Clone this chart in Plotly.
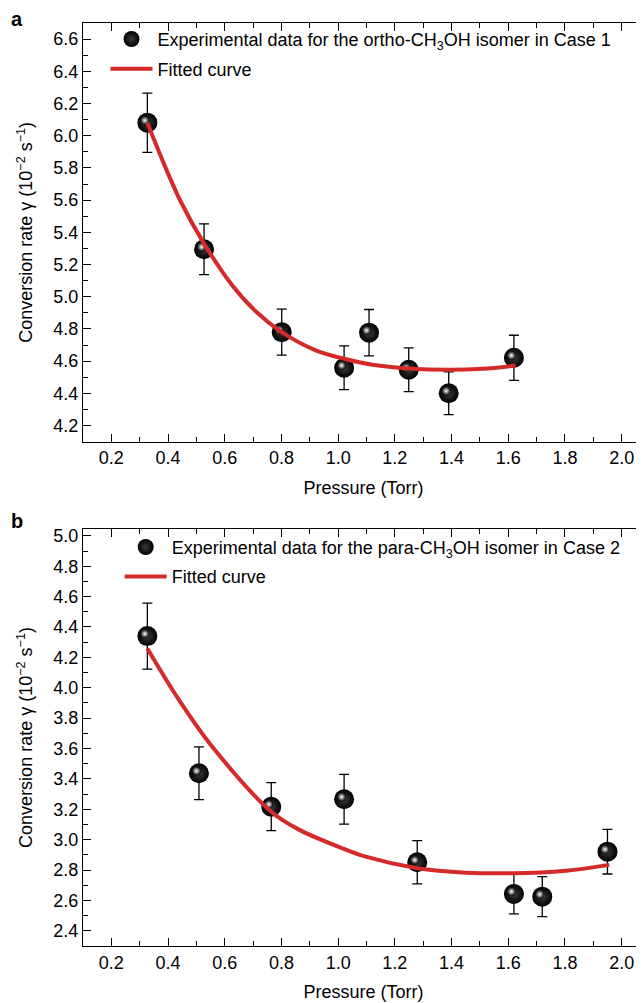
import plotly.graph_objects as go

# ---------------- data ----------------
pressure_a = [0.327, 0.527, 0.801, 1.021, 1.109, 1.249, 1.390, 1.620]
rate_a = [6.081, 5.295, 4.780, 4.559, 4.777, 4.547, 4.401, 4.621]
err_a = [0.184, 0.158, 0.143, 0.136, 0.144, 0.136, 0.133, 0.140]
fit_x_a = [0.327, 0.394, 0.445, 0.527, 0.627, 0.709, 0.801, 0.921, 1.021, 1.121, 1.250, 1.390, 1.509, 1.626]
fit_y_a = [6.081, 5.790, 5.590, 5.330, 5.070, 4.910, 4.780, 4.667, 4.615, 4.578, 4.555, 4.547, 4.553, 4.573]

pressure_b = [0.327, 0.509, 0.764, 1.021, 1.279, 1.620, 1.720, 1.950]
rate_b = [4.340, 3.437, 3.217, 3.266, 2.851, 2.643, 2.625, 2.921]
err_b = [0.217, 0.174, 0.158, 0.164, 0.142, 0.131, 0.132, 0.147]
fit_x_b = [0.327, 0.439, 0.556, 0.764, 0.862, 1.015, 1.097, 1.279, 1.450, 1.614, 1.803, 1.956]
fit_y_b = [4.259, 3.919, 3.612, 3.184, 3.066, 2.943, 2.888, 2.812, 2.783, 2.779, 2.796, 2.834]

legend_a = ["Experimental data for the ortho-CH<sub>3</sub>OH isomer in Case 1", "Fitted curve"]
legend_b = ["Experimental data for the para-CH<sub>3</sub>OH isomer in Case 2", "Fitted curve"]
x_title = "Pressure (Torr)"
y_title = "Conversion rate \u03b3 (10<sup>\u22122</sup> s<sup>\u22121</sup>)"

# ---------------- style ----------------
FONT = "Liberation Sans, Arial, Helvetica, sans-serif"
FS = 18
RED = "#d42a2a"
PAGE_OFF = 8  # default body margin of the html page
W, H = 644 - PAGE_OFF, 1003 - PAGE_OFF
ML, MR, MT, MB = 75, 0, 15, 57
PW, PH = W - ML - MR, H - MT - MB
XR = [0.1, 0.1 + PW / 283.5]
YR_A = [4.1, 6.7]
YR_B = [2.3, 5.045]
DOM_A = [1 - (441.7 - PAGE_OFF - MT) / PH, 1.0]
DOM_B = [0.0, 1 - (529 - PAGE_OFF - MT) / PH]


def px_x(px):
    return (px - PAGE_OFF - ML) / PW


def px_y(py):
    return 1 - (py - PAGE_OFF - MT) / PH


fig = go.Figure()


def add_panel(xs, ys, es, fx, fy, labels, xa, ya, leg_pt, leg_ln, yr, dom):
    # error bars
    fig.add_trace(go.Scatter(x=xs, y=ys, mode="markers", xaxis=xa, yaxis=ya,
                             marker=dict(size=20, color="rgba(0,0,0,0)"),
                             error_y=dict(type="data", array=es, color="black",
                                          thickness=1.3, width=5),
                             showlegend=False, hoverinfo="skip"))
    # spheres
    fig.add_trace(go.Scatter(x=xs, y=ys, mode="markers", xaxis=xa, yaxis=ya,
                             name=labels[0], legend=leg_pt,
                             marker=dict(size=20, color="black",
                                         gradient=dict(type="radial", color="#3c3c3c"),
                                         line=dict(width=0))))
    # highlights (shifted slightly up-left of each sphere centre)
    dx = -2.5 * (XR[1] - XR[0]) / PW
    dy = 2.3 * (yr[1] - yr[0]) / ((dom[1] - dom[0]) * PH)
    fig.add_trace(go.Scatter(x=[v + dx for v in xs], y=[v + dy for v in ys], mode="markers",
                             xaxis=xa, yaxis=ya, showlegend=False, hoverinfo="skip",
                             marker=dict(size=9, color="black",
                                         gradient=dict(type="radial", color="white"),
                                         line=dict(width=0))))
    # fitted curve
    fig.add_trace(go.Scatter(x=fx, y=fy, mode="lines", xaxis=xa, yaxis=ya,
                             name=labels[1], legend=leg_ln,
                             line=dict(color=RED, width=4, shape="spline", smoothing=1.0)))


add_panel(pressure_a, rate_a, err_a, fit_x_a, fit_y_a, legend_a, "x", "y", "legend", "legend2", YR_A, DOM_A)
add_panel(pressure_b, rate_b, err_b, fit_x_b, fit_y_b, legend_b, "x2", "y2", "legend3", "legend4", YR_B, DOM_B)

tickfont = dict(family=FONT, size=FS, color="black")
common_x = dict(range=XR, dtick=0.2, tick0=0, tickformat=".1f", ticks="inside", ticklen=8,
                tickwidth=1.3, tickcolor="black", showline=True, linecolor="black", linewidth=1.3,
                mirror="ticks", showgrid=False, zeroline=False, tickfont=tickfont, automargin=False,
                minor=dict(dtick=0.1, tick0=0, ticks="inside", ticklen=5, tickwidth=1.3,
                           tickcolor="black", showgrid=False),
                title=dict(text=x_title, font=dict(family=FONT, size=FS, color="black"), standoff=13))
common_y = dict(dtick=0.2, tick0=0, tickformat=".1f", ticks="inside", ticklen=8,
                tickwidth=1.3, tickcolor="black", showline=True, linecolor="black", linewidth=1.3,
                mirror=False, showgrid=False, zeroline=False, tickfont=tickfont, automargin=False,
                minor=dict(dtick=0.1, tick0=0, ticks="inside", ticklen=5, tickwidth=1.3,
                           tickcolor="black", showgrid=False),
                title=dict(text=y_title, font=dict(family=FONT, size=FS, color="black"), standoff=15))

leg_common = dict(xanchor="left", yanchor="middle", itemwidth=42, bgcolor="rgba(0,0,0,0)",
                  borderwidth=0, font=dict(family=FONT, size=FS, color="black"),
                  itemsizing="trace")

fig.update_layout(
    width=W, height=H,
    margin=dict(l=ML, r=MR, t=MT, b=MB, autoexpand=False),
    paper_bgcolor="white", plot_bgcolor="white",
    font=dict(family=FONT, size=FS, color="black"),
    xaxis=dict(common_x, anchor="y", domain=[0, 1]),
    yaxis=dict(common_y, anchor="x", domain=DOM_A, range=YR_A),
    xaxis2=dict(common_x, anchor="y2", domain=[0, 1]),
    yaxis2=dict(common_y, anchor="x2", domain=DOM_B, range=YR_B),
    legend=dict(leg_common, x=px_x(105.5), y=px_y(39.3)),
    legend2=dict(leg_common, x=px_x(105.5), y=px_y(69)),
    legend3=dict(leg_common, x=px_x(119.7), y=px_y(547.3)),
    legend4=dict(leg_common, x=px_x(119.7), y=px_y(576.7)),
    annotations=[
        dict(text="<b>a</b>", xref="paper", yref="paper", x=px_x(17), y=px_y(19.5),
             xanchor="center", yanchor="middle", showarrow=False, borderpad=0,
             font=dict(family=FONT, size=20, color="black")),
        dict(text="<b>b</b>", xref="paper", yref="paper", x=px_x(17), y=px_y(521),
             xanchor="center", yanchor="middle", showarrow=False, borderpad=0,
             font=dict(family=FONT, size=20, color="black")),
    ],
    showlegend=True,
)

fig.write_html("out.html")
